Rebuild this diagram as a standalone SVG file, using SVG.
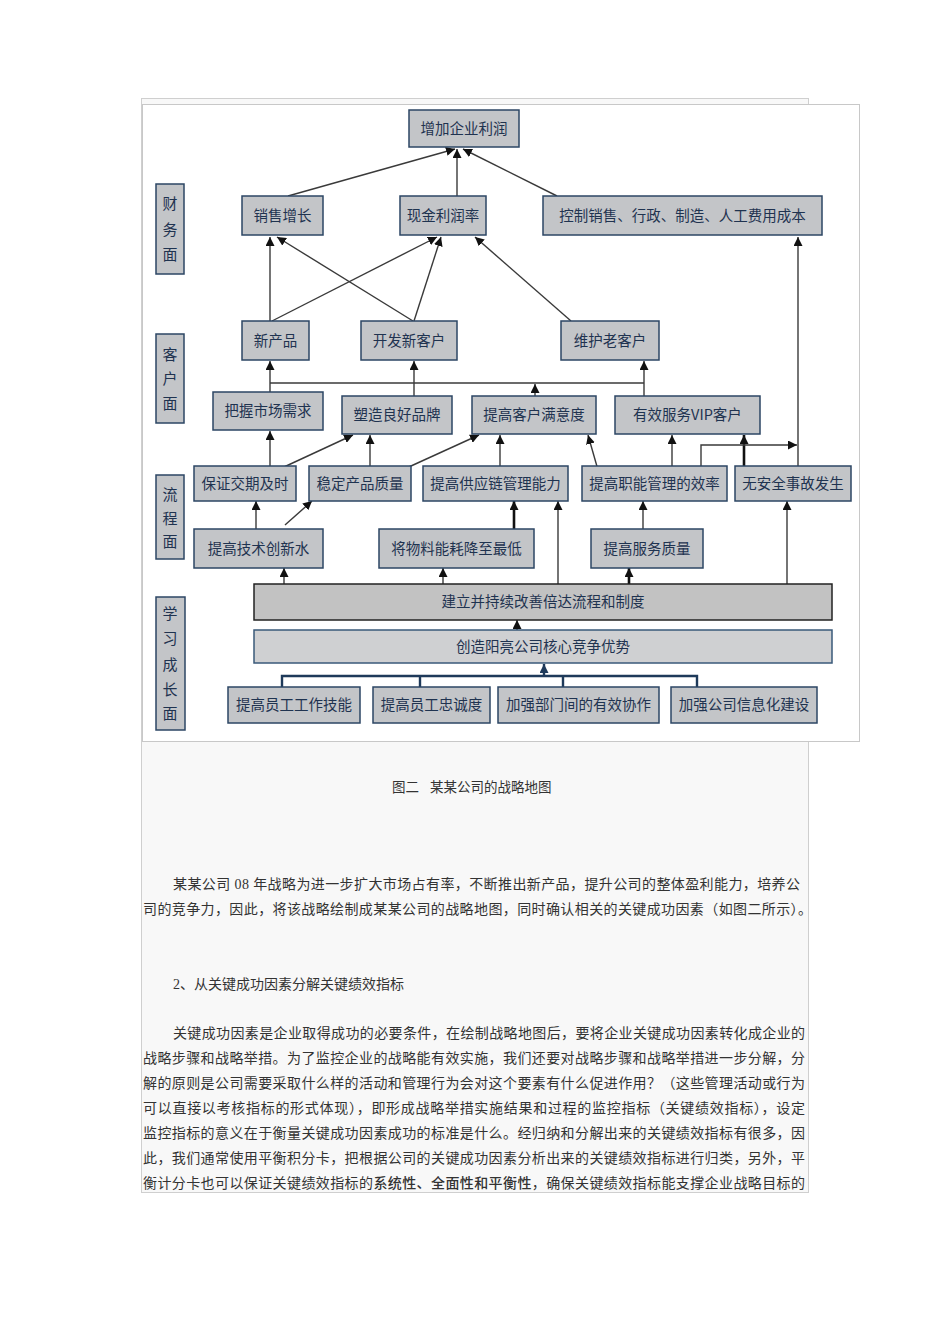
<svg xmlns="http://www.w3.org/2000/svg" width="950" height="1344" viewBox="0 0 950 1344">
<style>
.n rect{fill:#c3c5c8;stroke:#2c4664;stroke-width:1.5}
.n text{font-family:"Noto Sans CJK SC","Noto Sans",sans-serif;font-size:14.5px;fill:#1f3350;text-anchor:middle}
.lbl text{font-size:15px}
.c{fill:none;stroke:#3a3a3a;stroke-width:1.4}
.t{stroke:#111;stroke-width:2.6}
.tree{fill:none;stroke:#1e3a5a;stroke-width:2.4}
.p{font-family:"Liberation Serif","Noto Sans CJK SC",serif;font-size:14px;fill:#333}
</style>
<defs>
<marker id="a" markerUnits="userSpaceOnUse" markerWidth="10" markerHeight="9" refX="9" refY="4.5" orient="auto">
<path d="M0,0 L9,4.5 L0,9 z" fill="#111"/>
</marker>
<marker id="b" markerUnits="userSpaceOnUse" markerWidth="10" markerHeight="9" refX="9" refY="4.5" orient="auto">
<path d="M0,0 L9,4.5 L0,9 z" fill="#1e3a5a"/>
</marker>
</defs>
<rect width="950" height="1344" fill="#fff"/>
<rect x="141.5" y="98.5" width="667" height="1094" fill="#f8f8f8" stroke="#cfcfcf"/>
<rect x="142.5" y="104.5" width="717" height="637" fill="#fff" stroke="#c8c8c8"/>

<g id="connectors">
<path class="c" d="M288,196 L455,149" marker-end="url(#a)"/>
<path class="c" d="M457,196 L457,149" marker-end="url(#a)"/>
<path class="c" d="M557,196 L463,149" marker-end="url(#a)"/>
<path class="c" d="M270,321 L270,237" marker-end="url(#a)"/>
<path class="c" d="M413,321 L277,237" marker-end="url(#a)"/>
<path class="c" d="M272,321 L437,237" marker-end="url(#a)"/>
<path class="c" d="M414,321 L441,237" marker-end="url(#a)"/>
<path class="c" d="M571,321 L475,237" marker-end="url(#a)"/>
<path class="c" d="M798,466 L798,237" marker-end="url(#a)"/>
<path class="c" d="M270,383 L644,383"/>
<path class="c" d="M270,392 L270,361" marker-end="url(#a)"/>
<path class="c" d="M414,396 L414,361" marker-end="url(#a)"/>
<path class="c" d="M644,396 L644,361" marker-end="url(#a)"/>
<path class="c" d="M535,396 L535,384" marker-end="url(#a)"/>
<path class="c" d="M270,466 L270,431" marker-end="url(#a)"/>
<path class="c" d="M284,467 L353,435" marker-end="url(#a)"/>
<path class="c" d="M370,466 L370,435" marker-end="url(#a)"/>
<path class="c" d="M400,471 L479,435" marker-end="url(#a)"/>
<path class="c" d="M500,466 L500,435" marker-end="url(#a)"/>
<path class="c" d="M598,470 L588,435" marker-end="url(#a)"/>
<path class="c" d="M672,466 L672,435" marker-end="url(#a)"/>
<path class="c t" d="M744,466 L744,435" marker-end="url(#a)"/>
<path class="c" d="M701,466 L701,445 L797,445" marker-end="url(#a)"/>
<path class="c" d="M256,529 L256,501" marker-end="url(#a)"/>
<path class="c" d="M285,525 L312,501" marker-end="url(#a)"/>
<path class="c t" d="M514,529 L514,501" marker-end="url(#a)"/>
<path class="c" d="M558,584 L558,501" marker-end="url(#a)"/>
<path class="c" d="M643,529 L643,501" marker-end="url(#a)"/>
<path class="c" d="M787,584 L787,501" marker-end="url(#a)"/>
<path class="c" d="M284,584 L284,568" marker-end="url(#a)"/>
<path class="c" d="M443,584 L443,568" marker-end="url(#a)"/>
<path class="c t" d="M629,584 L629,568" marker-end="url(#a)"/>
<path class="c" d="M517,630 L517,620" marker-end="url(#a)"/>
<path class="tree" d="M282,687 L282,676 L697,676 L697,687 M420,676 L420,687 M563,676 L563,687"/>
<path class="tree" d="M544,676 L544,664" marker-end="url(#b)"/>
</g>

<g id="lbl-finance" class="n lbl"><rect x="156" y="184" width="28" height="90"/><text x="170" y="209">财</text><text x="170" y="235">务</text><text x="170" y="260">面</text></g>
<g id="lbl-customer" class="n lbl"><rect x="156" y="334" width="28" height="89"/><text x="170" y="360">客</text><text x="170" y="384">户</text><text x="170" y="409">面</text></g>
<g id="lbl-process" class="n lbl"><rect x="156" y="475" width="28" height="84"/><text x="170" y="500">流</text><text x="170" y="524">程</text><text x="170" y="547">面</text></g>
<g id="lbl-learning" class="n lbl"><rect x="156" y="597" width="29" height="133"/><text x="170" y="619">学</text><text x="170" y="644">习</text><text x="170" y="670">成</text><text x="170" y="695">长</text><text x="170" y="719">面</text></g>

<g id="n-profit" class="n"><rect x="409" y="110" width="110" height="37"/><text x="464" y="133.5">增加企业利润</text></g>
<g id="n-sales" class="n"><rect x="242" y="196" width="81" height="39"/><text x="282.5" y="220.5">销售增长</text></g>
<g id="n-cash" class="n"><rect x="400" y="196" width="86" height="39"/><text x="443" y="220.5">现金利润率</text></g>
<g id="n-cost" class="n"><rect x="543" y="196" width="279" height="39"/><text x="682.5" y="220.5">控制销售、行政、制造、人工费用成本</text></g>
<g id="n-newprod" class="n"><rect x="242" y="321" width="67" height="39"/><text x="275.5" y="345.5">新产品</text></g>
<g id="n-newcust" class="n"><rect x="361" y="321" width="96" height="39"/><text x="409" y="345.5">开发新客户</text></g>
<g id="n-oldcust" class="n"><rect x="561" y="321" width="98" height="39"/><text x="610" y="345.5">维护老客户</text></g>
<g id="n-market" class="n"><rect x="213" y="392" width="110" height="38"/><text x="268" y="416">把握市场需求</text></g>
<g id="n-brand" class="n"><rect x="342" y="396" width="110" height="38"/><text x="397" y="420">塑造良好品牌</text></g>
<g id="n-satis" class="n"><rect x="472" y="396" width="124" height="38"/><text x="534" y="420">提高客户满意度</text></g>
<g id="n-vip" class="n"><rect x="615" y="396" width="145" height="38"/><text x="687.5" y="420">有效服务VIP客户</text></g>
<g id="n-delivery" class="n"><rect x="194" y="466" width="102" height="35"/><text x="245" y="488.5">保证交期及时</text></g>
<g id="n-quality" class="n"><rect x="309" y="466" width="102" height="35"/><text x="360" y="488.5">稳定产品质量</text></g>
<g id="n-supply" class="n"><rect x="423" y="466" width="145" height="35"/><text x="495.5" y="488.5">提高供应链管理能力</text></g>
<g id="n-func" class="n"><rect x="582" y="466" width="145" height="35"/><text x="654.5" y="488.5">提高职能管理的效率</text></g>
<g id="n-safety" class="n"><rect x="735" y="466" width="116" height="35"/><text x="793" y="488.5">无安全事故发生</text></g>
<g id="n-tech" class="n"><rect x="194" y="529" width="129" height="39"/><text x="258.5" y="553.5">提高技术创新水</text></g>
<g id="n-material" class="n"><rect x="379" y="529" width="155" height="39"/><text x="456.5" y="553.5">将物料能耗降至最低</text></g>
<g id="n-service" class="n"><rect x="591" y="529" width="112" height="39"/><text x="647" y="553.5">提高服务质量</text></g>
<g id="n-build" class="n"><rect x="254" y="584" width="578" height="36" style="fill:#c2c2c2;stroke:#222"/><text x="543" y="607">建立并持续改善倍达流程和制度</text></g>
<g id="n-core" class="n"><rect x="254" y="630" width="578" height="33" style="fill:#cfd0d2;stroke:#3a5a7a"/><text x="543" y="651.5">创造阳亮公司核心竞争优势</text></g>
<g id="n-skill" class="n"><rect x="228" y="687" width="132" height="36"/><text x="294" y="710">提高员工工作技能</text></g>
<g id="n-loyal" class="n"><rect x="373" y="687" width="117" height="36"/><text x="431.5" y="710">提高员工忠诚度</text></g>
<g id="n-coop" class="n"><rect x="498" y="687" width="161" height="36"/><text x="578.5" y="710">加强部门间的有效协作</text></g>
<g id="n-info" class="n"><rect x="671" y="687" width="146" height="36"/><text x="744" y="710">加强公司信息化建设</text></g>

<g id="text">
<text class="p" x="392" y="792" style="font-size:13.5px"><tspan>图二</tspan><tspan x="430">某某公司的战略地图</tspan></text>
<text class="p" x="173" y="889" textLength="627" lengthAdjust="spacing">某某公司 08 年战略为进一步扩大市场占有率，不断推出新产品，提升公司的整体盈利能力，培养公</text>
<text class="p" x="143" y="914" textLength="669" lengthAdjust="spacing">司的竞争力，因此，将该战略绘制成某某公司的战略地图，同时确认相关的关键成功因素（如图二所示）。</text>
<text class="p" x="173" y="989">2、从关键成功因素分解关键绩效指标</text>
<text class="p" x="173" y="1038" textLength="632" lengthAdjust="spacing">关键成功因素是企业取得成功的必要条件，在绘制战略地图后，要将企业关键成功因素转化成企业的</text>
<text class="p" x="143" y="1063" textLength="662" lengthAdjust="spacing">战略步骤和战略举措。为了监控企业的战略能有效实施，我们还要对战略步骤和战略举措进一步分解，分</text>
<text class="p" x="143" y="1088" textLength="662" lengthAdjust="spacing">解的原则是公司需要采取什么样的活动和管理行为会对这个要素有什么促进作用？（这些管理活动或行为</text>
<text class="p" x="143" y="1113" textLength="662" lengthAdjust="spacing">可以直接以考核指标的形式体现），即形成战略举措实施结果和过程的监控指标（关键绩效指标），设定</text>
<text class="p" x="143" y="1138" textLength="662" lengthAdjust="spacing">监控指标的意义在于衡量关键成功因素成功的标准是什么。经归纳和分解出来的关键绩效指标有很多，因</text>
<text class="p" x="143" y="1163" textLength="662" lengthAdjust="spacing">此，我们通常使用平衡积分卡，把根据公司的关键成功因素分析出来的关键绩效指标进行归类，另外，平</text>
<text class="p" x="143" y="1188" textLength="662" lengthAdjust="spacing">衡计分卡也可以保证关键绩效指标的<tspan font-weight="500">系统性、全面性和平衡性</tspan>，确保关键绩效指标能支撑企业战略目标的</text>
</g>
</svg>
